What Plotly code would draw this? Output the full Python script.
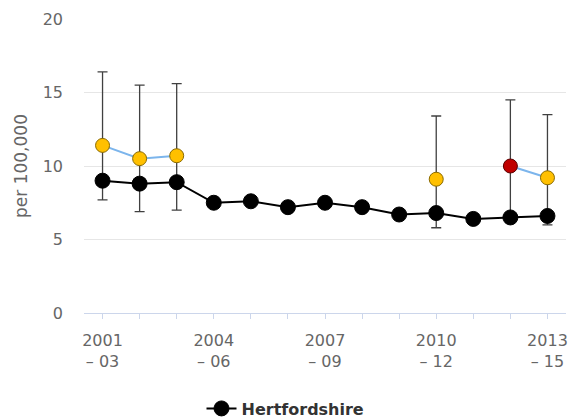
import plotly.graph_objects as go

# Three-year rolling periods
periods = ["2001 - 03", "2002 - 04", "2003 - 05", "2004 - 06", "2005 - 07",
           "2006 - 08", "2007 - 09", "2008 - 10", "2009 - 11", "2010 - 12",
           "2011 - 13", "2012 - 14", "2013 - 15"]

# Hertfordshire rate per 100,000
hertfordshire = [9.0, 8.8, 8.9, 7.5, 7.6, 7.2, 7.5, 7.2, 6.7, 6.8, 6.4, 6.5, 6.6]

# Local area rate per 100,000 with 95% confidence limits (gaps where suppressed)
area = [11.4, 10.5, 10.7, None, None, None, None, None, None, 9.1, None, 10.0, 9.2]
area_upper = [16.4, 15.5, 15.6, None, None, None, None, None, None, 13.4, None, 14.5, 13.5]
area_lower = [7.7, 6.9, 7.0, None, None, None, None, None, None, 5.8, None, 6.5, 6.0]
# Significance compared with Hertfordshire
significance = ["similar", "similar", "similar", None, None, None, None, None, None,
                "similar", None, "worse", "similar"]

sig_fill = {"similar": "#ffc000", "worse": "#c00000", None: "#ffc000"}
sig_edge = {"similar": "#8a6a00", "worse": "#5a0000", None: "#8a6a00"}

err_plus = [None if v is None else round(u - v, 3) for v, u in zip(area, area_upper)]
err_minus = [None if v is None else round(v - l, 3) for v, l in zip(area, area_lower)]

tick_labels = [p.replace(" - ", "<br>– ") if i % 3 == 0 else "" for i, p in enumerate(periods)]

font_family = "DejaVu Sans"
axis_grey = "#666666"

fig = go.Figure()

fig.add_trace(go.Scatter(
    x=periods, y=area, name="District", mode="lines+markers",
    connectgaps=False, showlegend=False,
    line=dict(color="#7cb5ec", width=2),
    marker=dict(size=14, color=[sig_fill[s] for s in significance],
                line=dict(color=[sig_edge[s] for s in significance], width=1)),
    error_y=dict(type="data", symmetric=False, array=err_plus, arrayminus=err_minus,
                 color="#404040", thickness=1.3, width=5),
))

fig.add_trace(go.Scatter(
    x=periods, y=hertfordshire, name="Hertfordshire", mode="lines+markers",
    line=dict(color="#000000", width=2),
    marker=dict(size=15, color="#000000", line=dict(color="#000000", width=1)),
))

fig.update_layout(
    width=571, height=419,
    margin=dict(l=84, r=3, t=19, b=106),
    paper_bgcolor="white", plot_bgcolor="white",
    font=dict(family=font_family, size=16, color=axis_grey),
    showlegend=True,
    legend=dict(orientation="h", xref="container", x=0.5, xanchor="center",
                yref="container", y=0.025, yanchor="middle",
                font=dict(family=font_family, size=16, color="#333333", weight=700)),
    xaxis=dict(
        type="category", range=[-0.5, 12.5],
        tickvals=periods, ticktext=tick_labels,
        ticks="outside", ticklen=5, tickcolor="#ccd6eb",
        showline=True, linecolor="#ccd6eb", linewidth=1,
        showgrid=False, zeroline=False,
        tickfont=dict(family=font_family, size=16, color=axis_grey),
        ticklabelstandoff=8,
    ),
    yaxis=dict(
        range=[0, 20], tickvals=[0, 5, 10, 15, 20],
        showgrid=True, gridcolor="#e6e6e6", gridwidth=1,
        zeroline=False, showline=False,
        tickfont=dict(family=font_family, size=16, color=axis_grey),
        ticklabelstandoff=20,
        title=dict(text="per 100,000", standoff=10,
                   font=dict(family=font_family, size=17, color=axis_grey)),
    ),
)

fig.write_html("out.html")
